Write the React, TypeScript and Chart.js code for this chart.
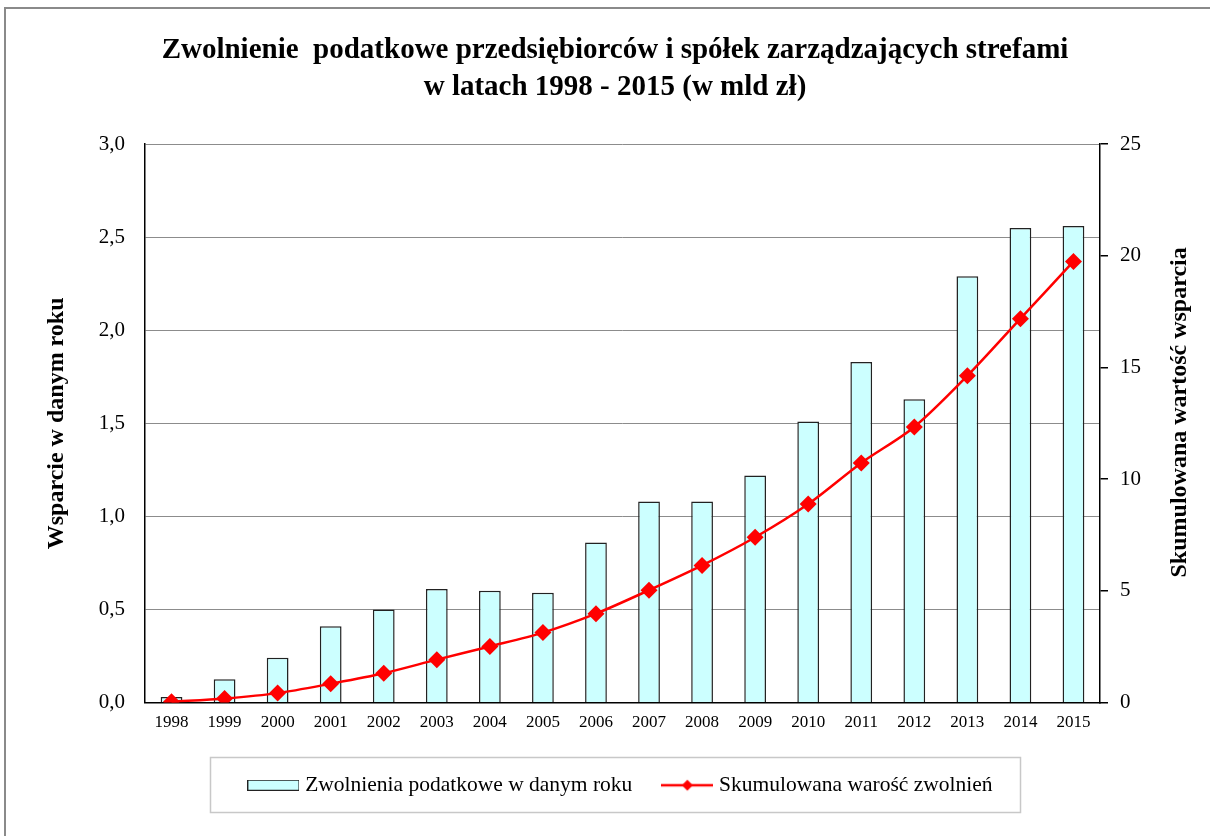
import { useEffect, useRef } from "react";
import { Chart, registerables } from "chart.js";

Chart.register(...registerables);

const years = ["1998", "1999", "2000", "2001", "2002", "2003", "2004", "2005", "2006", "2007", "2008", "2009", "2010", "2011", "2012", "2013", "2014", "2015"];
const annualRelief = [0.03, 0.125, 0.24, 0.41, 0.5, 0.61, 0.6, 0.59, 0.86, 1.08, 1.08, 1.22, 1.51, 1.83, 1.63, 2.29, 2.55, 2.56];
const cumulativeRelief = [0.03, 0.18, 0.42, 0.84, 1.31, 1.92, 2.51, 3.13, 3.98, 5.03, 6.14, 7.4, 8.89, 10.73, 12.34, 14.63, 17.19, 19.75];

const titleLines = ["Zwolnienie  podatkowe przedsiębiorców i spółek zarządzających strefami", "w latach 1998 - 2015 (w mld zł)"];
const barLabel = "Zwolnienia podatkowe w danym roku";
const lineLabel = "Skumulowana warość zwolnień";
const leftAxisTitle = "Wsparcie w danym roku";
const rightAxisTitle = "Skumulowana wartość wsparcia";

const SERIF = "'Liberation Serif', 'Times New Roman', serif";
const BAR_FILL = "#ccffff";
const LINE_RED = "#ff0000";

function makeBarSwatch(): HTMLCanvasElement {
  const c = document.createElement("canvas");
  c.width = 52;
  c.height = 11;
  const g = c.getContext("2d")!;
  g.fillStyle = BAR_FILL;
  g.fillRect(0, 0, 52, 11);
  g.strokeStyle = "#222";
  g.lineWidth = 1;
  g.strokeRect(0.5, 0.5, 51, 10);
  return c;
}

function makeLineSwatch(): HTMLCanvasElement {
  const c = document.createElement("canvas");
  c.width = 52;
  c.height = 14;
  const g = c.getContext("2d")!;
  g.strokeStyle = LINE_RED;
  g.lineWidth = 2.5;
  g.beginPath();
  g.moveTo(0, 7);
  g.lineTo(52, 7);
  g.stroke();
  g.fillStyle = LINE_RED;
  g.beginPath();
  g.moveTo(26, 1.5);
  g.lineTo(31.5, 7);
  g.lineTo(26, 12.5);
  g.lineTo(20.5, 7);
  g.closePath();
  g.fill();
  return c;
}

const decorPlugin = {
  id: "decor",
  beforeDraw(chart: any) {
    const ctx = chart.ctx;
    ctx.save();
    ctx.fillStyle = "#fff";
    ctx.fillRect(0, 0, chart.width, chart.height);
    ctx.strokeStyle = "#8a8a8a";
    ctx.lineWidth = 2;
    ctx.beginPath();
    ctx.moveTo(5, chart.height);
    ctx.lineTo(5, 8);
    ctx.lineTo(chart.width, 8);
    ctx.stroke();
    ctx.restore();
  },
  afterDraw(chart: any) {
    const ctx = chart.ctx;
    const legend = chart.legend;
    ctx.save();
    if (legend && legend.legendHitBoxes && legend.legendHitBoxes.length) {
      const boxes = legend.legendHitBoxes;
      let l = Infinity, r = -Infinity, t = Infinity, b = -Infinity;
      for (const hb of boxes) {
        l = Math.min(l, hb.left);
        r = Math.max(r, hb.left + hb.width);
        t = Math.min(t, hb.top);
        b = Math.max(b, hb.top + hb.height);
      }
      const cy = (t + b) / 2;
      ctx.strokeStyle = "#c8c8c8";
      ctx.lineWidth = 1.5;
      const left = Math.round(l - 42);
      const right = Math.round(r + 27);
      ctx.strokeRect(left + 0.5, Math.round(cy - 28) + 0.5, right - left, 55);
    }
    // right axis title, reading bottom-to-top
    const area = chart.chartArea;
    ctx.fillStyle = "#000";
    ctx.font = "bold 24px " + SERIF;
    ctx.textAlign = "center";
    ctx.textBaseline = "middle";
    ctx.translate(chart.width - 30, (area.top + area.bottom) / 2 - 11);
    ctx.rotate(-Math.PI / 2);
    ctx.fillText(rightAxisTitle, 0, 0);
    ctx.restore();
  },
};

export default function App() {
  const ref = useRef<HTMLCanvasElement | null>(null);

  useEffect(() => {
    if (!ref.current) return;
    document.body.style.overflow = "hidden";
    const barSwatch = makeBarSwatch();
    const lineSwatch = makeLineSwatch();

    const chart = new Chart(ref.current, {
      type: "bar",
      data: {
        labels: years,
        datasets: [
          {
            type: "line",
            label: lineLabel,
            data: cumulativeRelief,
            yAxisID: "y1",
            borderColor: LINE_RED,
            backgroundColor: LINE_RED,
            borderWidth: 2.5,
            tension: 0.3,
            pointStyle: "rectRot",
            pointRadius: 8.5,
            pointBackgroundColor: LINE_RED,
            pointBorderColor: LINE_RED,
            pointBorderWidth: 0,
            order: 0,
          },
          {
            type: "bar",
            label: barLabel,
            data: annualRelief,
            yAxisID: "y",
            backgroundColor: BAR_FILL,
            borderColor: "#222",
            borderWidth: 1.5,
            categoryPercentage: 1,
            barPercentage: 0.41,
            order: 1,
          },
        ],
      },
      options: {
        animation: false,
        responsive: true,
        maintainAspectRatio: false,
        layout: { padding: { left: 20, right: 0, top: 0, bottom: 30 } },
        plugins: {
          tooltip: { enabled: false },
          title: {
            display: true,
            text: titleLines,
            color: "#000",
            font: { family: SERIF, size: 29, weight: "bold", lineHeight: 1.28 },
            padding: { top: 32, bottom: 38 },
          },
          legend: {
            position: "bottom",
            fullSize: false,
            labels: {
              usePointStyle: true,
              pointStyleWidth: 42,
              padding: 34,
              color: "#000",
              font: { family: SERIF, size: 21.5 },
              generateLabels: () => [
                { text: barLabel, pointStyle: barSwatch as any, fillStyle: BAR_FILL, strokeStyle: "#222", lineWidth: 0, hidden: false, datasetIndex: 1 },
                { text: lineLabel, pointStyle: lineSwatch as any, fillStyle: LINE_RED, strokeStyle: LINE_RED, lineWidth: 0, hidden: false, datasetIndex: 0 },
              ],
            },
          },
        },
        scales: {
          x: {
            grid: { display: false, drawTicks: false },
            border: { display: true, color: "#000", width: 1.5 },
            ticks: { color: "#000", font: { family: SERIF, size: 17 }, padding: 10, maxRotation: 0 },
            afterFit: (s: any) => { s.height = 38; },
          },
          y: {
            position: "left",
            min: 0,
            max: 3,
            ticks: {
              stepSize: 0.5,
              color: "#000",
              font: { family: SERIF, size: 21 },
              padding: 20,
              callback: (v: any) => Number(v).toFixed(1).replace(".", ","),
            },
            grid: { color: "#8c8c8c", lineWidth: 1, drawTicks: false },
            border: { display: true, color: "#000", width: 1.5 },
            title: {
              display: true,
              text: leftAxisTitle,
              color: "#000",
              font: { family: SERIF, size: 24, weight: "bold" },
              padding: { top: 22, bottom: 0 },
            },
            afterFit: (s: any) => { s.width = 125; },
          },
          y1: {
            position: "right",
            min: 0,
            max: 25,
            ticks: {
              stepSize: 5,
              color: "#000",
              font: { family: SERIF, size: 21 },
              padding: 12,
            },
            grid: { drawOnChartArea: false, drawTicks: true, tickLength: 8, color: "#000", lineWidth: 1.5 },
            border: { display: true, color: "#000", width: 1.5 },
            afterFit: (s: any) => { s.width = 110; },
          },
        },
      },
      plugins: [decorPlugin],
    });

    return () => chart.destroy();
  }, []);

  return (
    <div style={{ position: "fixed", left: 0, top: 0, width: 1210, height: 836 }}>
      <canvas ref={ref} />
    </div>
  );
}
